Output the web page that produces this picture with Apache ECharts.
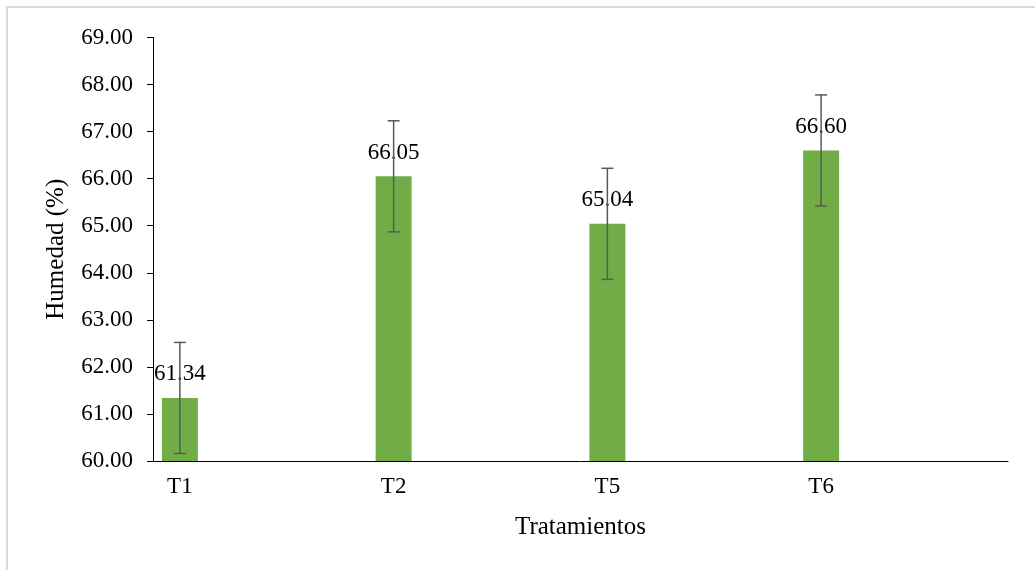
<!DOCTYPE html>
<html>
<head>
<meta charset="utf-8">
<script src="https://cdn.jsdelivr.net/npm/echarts@6/dist/echarts.min.js"></script>
<style>
  html, body { margin: 0; padding: 0; background: #fff; }
  #chart { width: 1035px; height: 570px; }
</style>
</head>
<body>
<div id="chart"></div>
<script>
// datos
const tratamientos = ["T1", "T2", "T5", "T6"];
const humedad = [61.34, 66.05, 65.04, 66.60];
const desviacion = [1.18, 1.18, 1.18, 1.18];

const FONT = "Liberation Serif";
const BAR_W = 36;
const GAP_PX = 124; // separa la barra del centro de la categoria (como en Excel)
const OFFSET = -(BAR_W + GAP_PX) / 2;

const chart = echarts.init(document.getElementById("chart"));

const option = {
  backgroundColor: "#fff",
  animation: false,
  graphic: [{
    type: "rect",
    shape: { x: 7, y: 7, width: 1100, height: 700 },
    style: { fill: "none", stroke: "#d9d9d9", lineWidth: 2 },
    silent: true
  }],
  grid: { left: 153, right: 27, top: 37.5, bottom: 109 },
  xAxis: {
    type: "category",
    data: tratamientos,
    name: "Tratamientos",
    nameLocation: "middle",
    nameGap: 54,
    nameTextStyle: { fontFamily: FONT, fontSize: 25, color: "#000" },
    axisLine: { lineStyle: { color: "#000", width: 1 } },
    axisTick: { show: false },
    axisLabel: {
      fontFamily: FONT, fontSize: 23, color: "#000",
      margin: 14,
      padding: [0, -2 * OFFSET, 0, 0]
    }
  },
  yAxis: {
    type: "value",
    min: 60,
    max: 69,
    interval: 1,
    name: "Humedad (%)",
    nameLocation: "middle",
    nameGap: 84,
    nameTextStyle: { fontFamily: FONT, fontSize: 25, color: "#000" },
    axisLine: { show: true, lineStyle: { color: "#000", width: 1 } },
    axisTick: { show: true, length: 6, lineStyle: { color: "#000" } },
    splitLine: { show: false },
    axisLabel: {
      fontFamily: FONT, fontSize: 23, color: "#000", margin: 20,
      formatter: v => v.toFixed(2)
    }
  },
  series: [
    {
      name: "Humedad",
      type: "bar",
      data: humedad,
      barWidth: BAR_W,
      barGap: (GAP_PX / BAR_W * 100) + "%",
      itemStyle: { color: "#70ad47" },
      label: {
        show: true,
        position: "top",
        distance: 12,
        fontFamily: FONT,
        fontSize: 23,
        color: "#000",
        formatter: p => p.value.toFixed(2)
      },
      z: 2
    },
    {
      // serie vacia, solo para desplazar la barra como en el original
      name: "relleno",
      type: "bar",
      data: [],
      barWidth: BAR_W
    },
    {
      name: "error",
      type: "custom",
      z: 5,
      data: humedad.map((v, i) => [i, v - desviacion[i], v + desviacion[i]]),
      renderItem: (params, api) => {
        const lo = api.coord([api.value(0), api.value(1)]);
        const hi = api.coord([api.value(0), api.value(2)]);
        const x = lo[0] + OFFSET;
        const cap = 6;
        const st = { stroke: "#595959", lineWidth: 1.5 };
        return {
          type: "group",
          children: [
            { type: "line", shape: { x1: x, y1: hi[1], x2: x, y2: lo[1] }, style: st },
            { type: "line", shape: { x1: x - cap, y1: hi[1], x2: x + cap, y2: hi[1] }, style: st },
            { type: "line", shape: { x1: x - cap, y1: lo[1], x2: x + cap, y2: lo[1] }, style: st }
          ]
        };
      }
    }
  ]
};

chart.setOption(option);
</script>
</body>
</html>
